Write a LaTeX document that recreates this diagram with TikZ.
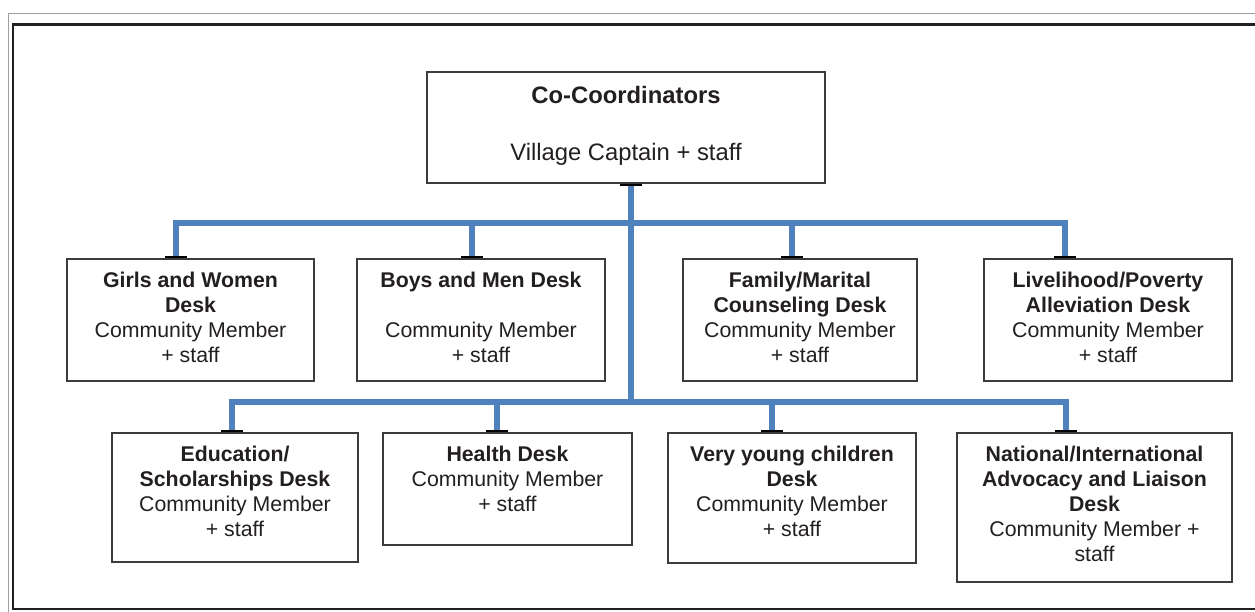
\documentclass[tikz,border=0pt]{standalone}
\usepackage{fontspec}
\setmainfont{Liberation Sans}
\usetikzlibrary{positioning,calc,arrows.meta}
\tikzset{>=stealth}

\definecolor{linkblue}{RGB}{79,129,189}
\definecolor{inkgray}{RGB}{35,31,32}
\definecolor{boxgray}{RGB}{60,60,60}

% Box text: fixed size, lines start from the top
\newcommand{\deskbox}[3]{\parbox[c][#2][t]{#1}{\centering
  \fontsize{21.3}{25}\selectfont\rule{0pt}{28.5pt}#3}}

\tikzset{
  desk/.style={draw=boxgray,line width=1.2pt,inner sep=0pt,text=inkgray,fill=white},
  link/.style={draw=linkblue,line width=6pt,line join=miter,
    -{Rectangle[length=2.5pt,width=22pt,black]}}
}

\begin{document}
\begin{tikzpicture}[x=1pt,y=-1pt]
\useasboundingbox (0,0) rectangle (1255,611);
\clip (0,0) rectangle (1255,611);

% Page frame
\draw[gray!75,line width=1pt] (8.5,13) rectangle (1280,640);
\draw[inkgray,line width=2.6pt] (13,24.5) rectangle (1280,609);

% Top box
\node[desk] (coord) at (626,127.5) {\parbox[c][111pt][t]{398pt}{\centering
  \fontsize{23.8}{28.5}\selectfont\rule{0pt}{31pt}\textbf{Co-Coordinators}\\[28.5pt]
  Village Captain + staff}};

% First row of desks
\node[desk] (girls) at (190.5,320) {\deskbox{247pt}{122pt}{%
  \textbf{Girls and Women\\Desk}\\Community Member\\+ staff}};
\node[desk] (boys) at (481,320) {\deskbox{248pt}{122pt}{%
  \textbf{Boys and Men Desk}\\[25pt]Community Member\\+ staff}};
\node[desk] (family) at (800,320) {\deskbox{234pt}{122pt}{%
  \textbf{Family/Marital\\Counseling Desk}\\Community Member\\+ staff}};
\node[desk] (living) at (1108,320) {\deskbox{248pt}{122pt}{%
  \textbf{Livelihood/Poverty\\Alleviation Desk}\\Community Member\\+ staff}};

% Second row of desks
\node[desk] (school) at (235,497.5) {\deskbox{246pt}{129pt}{%
  \textbf{Education/\\Scholarships Desk}\\Community Member\\+ staff}};
\node[desk] (health) at (507.5,489) {\deskbox{249pt}{112pt}{%
  \textbf{Health Desk}\\Community Member\\+ staff}};
\node[desk] (young) at (792,498) {\deskbox{248pt}{130pt}{%
  \textbf{Very young children\\Desk}\\Community Member\\+ staff}};
\node[desk] (nation) at (1094.5,507.5) {\deskbox{275pt}{149pt}{%
  \textbf{National/International\\Advocacy and Liaison\\Desk}\\Community Member +\\staff}};

% Trunk and the two buses
\coordinate (trunk) at ([xshift=5pt]coord.south);
\coordinate (busA) at (trunk |- 0,223);
\coordinate (busB) at (trunk |- 0,402);
\draw[link,{Rectangle[length=2.5pt,width=22pt,black]}-] (trunk) -- ([yshift=-3pt]busB);

\draw[link] (busA) -| ([xshift=-14.5pt]girls.north);
\draw[link] (busA) -| ([xshift=-9pt]boys.north);
\draw[link] (busA) -| ([xshift=-8pt]family.north);
\draw[link] (busA) -| ([xshift=-43pt]living.north);

\draw[link] (busB) -| ([xshift=-3pt]school.north);
\draw[link] (busB) -| ([xshift=-10.5pt]health.north);
\draw[link] (busB) -| ([xshift=-20pt]young.north);
\draw[link] (busB) -| ([xshift=-28.5pt]nation.north);
\end{tikzpicture}
\end{document}
